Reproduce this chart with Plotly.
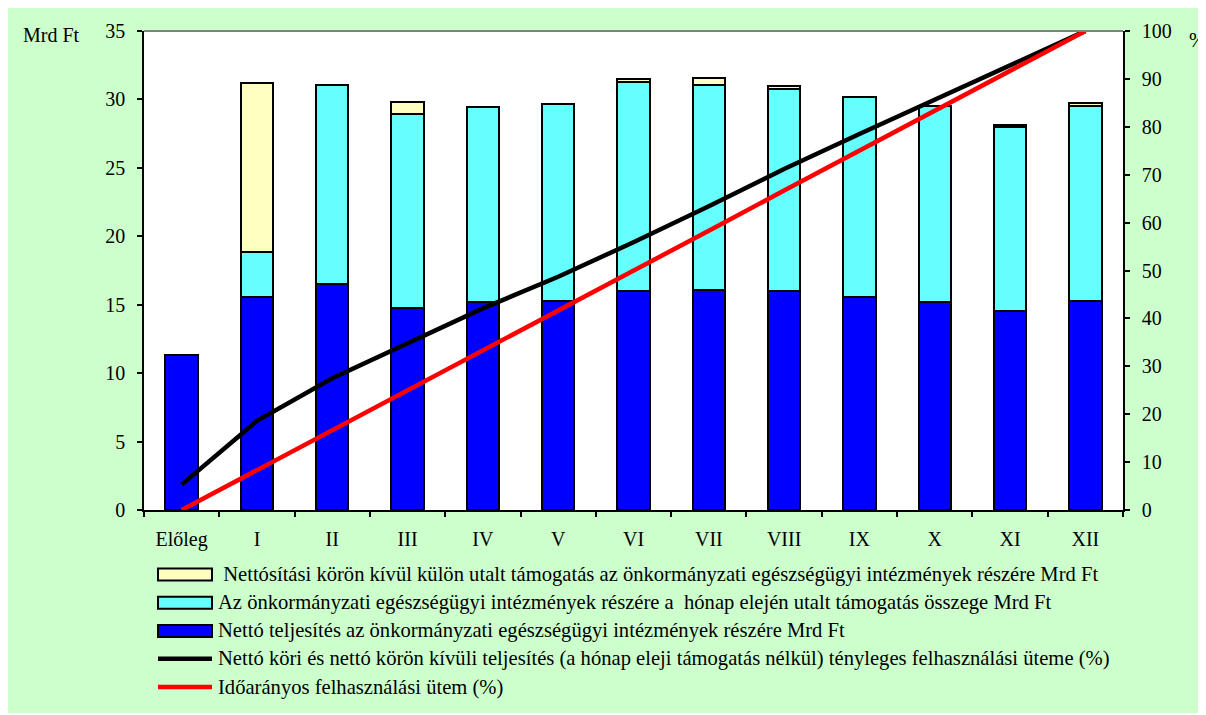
import plotly.graph_objects as go

categories = ['Előleg', 'I', 'II', 'III', 'IV', 'V', 'VI', 'VII', 'VIII', 'IX', 'X', 'XI', 'XII']

# Mrd Ft, stacked bar segments (bottom -> top)
netto_teljesites = [11.35, 15.58, 16.54, 14.78, 15.22, 15.29, 16.01, 16.06, 15.99, 15.53, 15.22, 14.54, 15.27]
honap_eleji = [None, 3.26, 14.50, 14.13, 14.22, 14.40, 15.24, 15.03, 14.76, 14.66, 14.30, 13.46, 14.25]
kulon_utalt = [None, 12.39, None, 0.92, None, None, 0.25, 0.46, 0.24, None, None, 0.15, 0.19]

# %, right axis
tenyleges_utem = [5.3, 18.6, 27.5, 34.9, 42.1, 48.7, 55.9, 63.4, 71.2, 78.5, 85.7, 92.8, 100]
idoaranyos_utem = [0, 8.3, 16.7, 25, 33.3, 41.7, 50, 58.3, 66.7, 75, 83.3, 91.7, 100]

names = [
    ' Nettósítási körön kívül külön utalt támogatás az önkormányzati egészségügyi intézmények részére Mrd Ft',
    'Az önkormányzati egészségügyi intézmények részére a  hónap elején utalt támogatás összege Mrd Ft',
    'Nettó teljesítés az önkormányzati egészségügyi intézmények részére Mrd Ft',
    'Nettó köri és nettó körön kívüli teljesítés (a hónap eleji támogatás nélkül) tényleges felhasználási üteme (%)',
    'Időarányos felhasználási ütem (%)',
]

FONT = 'Liberation Serif'
FS = 20
W, H = 1198, 705
L, R, T, B = 136, 1115, 19, 502


def px(x):
    return (x - L) / (R - L)


def py(y):
    return (B - y) / (B - T)


fig = go.Figure()
bar_line = dict(color='black', width=2)
fig.add_bar(x=categories, y=netto_teljesites, name=names[2],
            marker=dict(color='#0000FF', line=bar_line))
fig.add_bar(x=categories, y=honap_eleji, name=names[1],
            marker=dict(color='#66FFFF', line=bar_line))
fig.add_bar(x=categories, y=kulon_utalt, name=names[0],
            marker=dict(color='#FFFFC0', line=bar_line))
fig.add_scatter(x=categories, y=tenyleges_utem, name=names[3], mode='lines',
                line=dict(color='black', width=4.5), yaxis='y2')
fig.add_scatter(x=categories, y=idoaranyos_utem, name=names[4], mode='lines',
                line=dict(color='#FF0000', width=4.5), yaxis='y2')

shapes = [
    dict(type='line', xref='paper', yref='paper', x0=0, x1=1, y0=1, y1=1,
         line=dict(color='#808080', width=2)),
]

# hand drawn legend (wide swatches like the original)
swatch_colors = ['#FFFFC0', '#66FFFF', '#0000FF']
annotations = []
rows = [567, 595.5, 624, 652, 680.5]
for i, yc in enumerate(rows):
    if i < 3:
        shapes.append(dict(type='rect', xref='paper', yref='paper',
                           x0=px(150), x1=px(204), y0=py(yc + 6), y1=py(yc - 6),
                           fillcolor=swatch_colors[i], line=dict(color='black', width=2)))
    else:
        shapes.append(dict(type='line', xref='paper', yref='paper',
                           x0=px(150), x1=px(204), y0=py(yc), y1=py(yc),
                           line=dict(color='black' if i == 3 else '#FF0000', width=4.5)))
    annotations.append(dict(text=names[i], xref='paper', yref='paper', x=px(208), y=py(yc),
                            xanchor='left', yanchor='middle', showarrow=False,
                            font=dict(size=20.6, color='black', family=FONT)))

annotations.append(dict(text='Mrd Ft', xref='paper', yref='paper', x=px(43), y=py(23),
                        xanchor='center', yanchor='middle', showarrow=False,
                        font=dict(size=FS, color='black', family=FONT)))
annotations.append(dict(text='%', xref='paper', yref='paper', x=px(1189), y=py(28),
                        xanchor='center', yanchor='middle', showarrow=False,
                        font=dict(size=FS, color='black', family=FONT)))

axis_common = dict(showline=True, linecolor='black', linewidth=1.5, ticks='outside', ticklen=5,
                   tickcolor='black', tickwidth=1.5, showgrid=False, zeroline=False,
                   tickfont=dict(size=FS, color='black', family=FONT))

fig.update_layout(
    width=W, height=H,
    margin=dict(l=L, r=W - R, t=T, b=H - B),
    paper_bgcolor='#CCFFCC', plot_bgcolor='white',
    barmode='stack', bargap=0.57,
    showlegend=False,
    font=dict(family=FONT, color='black'),
    xaxis=dict(type='category', tickson='boundaries', ticklabelstandoff=10, **axis_common),
    yaxis=dict(range=[0, 35], dtick=5, ticklabelstandoff=8, **axis_common),
    yaxis2=dict(range=[0, 100], dtick=10, overlaying='y', side='right', ticklabelstandoff=8, **axis_common),
    shapes=shapes,
    annotations=annotations,
)

fig.write_html('out.html')
